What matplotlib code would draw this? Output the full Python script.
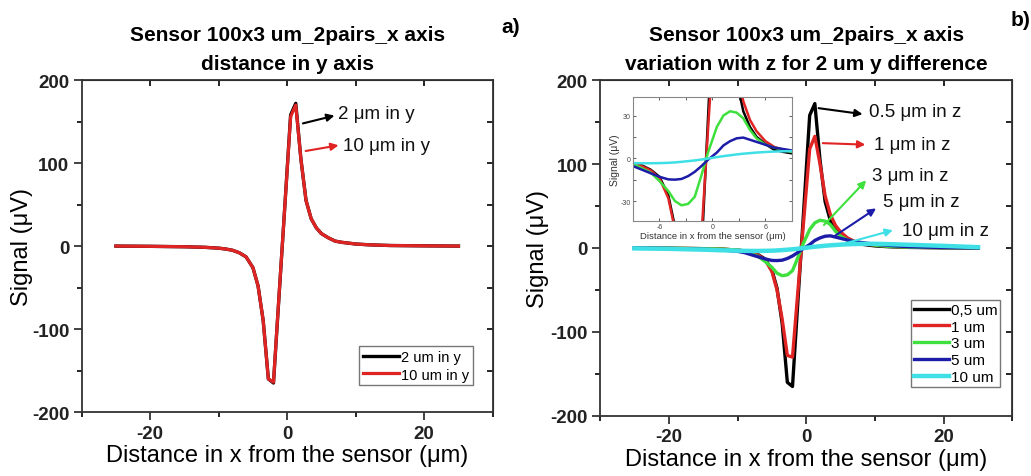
import numpy as np
import matplotlib.pyplot as plt

plt.rcParams['font.family'] = ['Liberation Sans', 'DejaVu Sans']
plt.rcParams['axes.unicode_minus'] = False

# distance in x from the sensor (um)
x_um = [-25, -20, -15, -12, -10, -9, -8, -7, -6, -5, -4.25, -3.5, -2.75, -2, -1.25,
        -0.5, 0.5, 1.25, 2, 2.75, 3.5, 4.25, 5, 6, 7, 8, 9, 10, 12, 15, 20, 25]

# panel a) - distance in y
sig_y2 = [0, -0.3, -0.8, -1.5, -2.5, -3.5, -5, -8, -13, -26, -48, -90, -160, -165, -68,
          28, 158, 172, 105, 55, 33, 22, 15, 10, 6, 4.5, 3.5, 2.5, 1.5, 0.7, 0.3, 0]
sig_y10 = [0, -0.3, -0.8, -1.5, -2.5, -3.5, -5, -8, -13, -26, -48, -90, -160, -164, -67,
           28, 156, 170, 105, 55, 33, 22, 15, 10, 6, 4.5, 3.5, 2.5, 1.5, 0.7, 0.3, 0]

# panel b) - variation with z
sig_z05 = sig_y2
sig_z1 = [0, -0.3, -0.8, -1.5, -2.5, -3.5, -5.5, -8.5, -14, -28, -50, -85, -128, -130, -55,
          20, 118, 133, 100, 62, 40, 27, 19, 12, 8, 6, 4.5, 3.5, 2, 0.9, 0.3, 0]
sig_z3 = [0, -0.3, -0.8, -1.5, -2.5, -4, -7, -10, -16, -23, -30, -33, -32, -27, -12,
          4, 22, 30, 33, 32, 28, 20, 14, 9.5, 7.5, 6, 4.5, 3.5, 2, 1, 0.3, 0]
sig_z5 = [0, -0.5, -1.5, -2.5, -4, -5.5, -8, -10.5, -13, -14.8, -15, -14.5, -12.5, -9.5, -5.5,
          -1, 4, 9, 12, 14, 14.5, 13, 11.5, 9.5, 7.5, 6.5, 5.5, 4.5, 3, 1.5, 0.5, 0]
sig_z10 = [-0.5, -1, -2, -2.8, -3.2, -3.4, -3.5, -3.5, -3.4, -3.2, -2.9, -2.5, -2, -1.5, -0.9,
           -0.2, 0.8, 1.5, 2.1, 2.7, 3.2, 3.6, 4, 4.4, 4.7, 4.9, 5, 5, 4.6, 3.8, 2.5, 1.0]

z_series = [sig_z05, sig_z1, sig_z3, sig_z5, sig_z10]
z_labels = ['0,5 um', '1 um', '3 um', '5 um', '10 um']
z_colors = ['#000000', '#e02424', '#3ee03e', '#1c1ca8', '#3ee0e6']
z_widths = [2.4, 2.4, 2.4, 2.4, 3.2]

title1 = "Sensor 100x3 um_2pairs_x axis\ndistance in y axis"
title2 = "Sensor 100x3 um_2pairs_x axis\nvariation with z for 2 um y difference"
xlab = "Distance in x from the sensor (\u03bcm)"
ylab = "Signal (\u03bcV)"

fig = plt.figure(figsize=(10.31, 4.77), dpi=100)
ax1 = fig.add_axes([0.0792, 0.134, 0.3987, 0.696])
ax2 = fig.add_axes([0.582, 0.126, 0.400, 0.704])


def style_axes(ax, title, ypad):
    ax.set_xlim(-30, 30)
    ax.set_ylim(-200, 200)
    ax.set_xticks([-20, 0, 20])
    ax.set_xticks([-30, -10, 10, 30], minor=True)
    ax.set_yticks([-200, -100, 0, 100, 200])
    ax.set_yticks([-150, -50, 50, 150], minor=True)
    ax.tick_params(which='major', direction='out', length=6, width=1.2, pad=3,
                   labelsize=13.5, colors='#222222')
    ax.tick_params(which='minor', direction='out', length=3.5, width=1.2)
    for lab in ax.get_xticklabels() + ax.get_yticklabels():
        lab.set_fontweight('bold')
    for s in ax.spines.values():
        s.set_linewidth(1.3)
        s.set_color('#333333')
    top = ax.secondary_xaxis('top')
    top.set_xticks([-20, 0, 20])
    top.set_xticks([-10, 10], minor=True)
    top.tick_params(which='both', direction='in', labeltop=False, length=4, width=1.2)
    right = ax.secondary_yaxis('right')
    right.set_yticks([-100, 0, 100])
    right.set_yticks([-150, -50, 50, 150], minor=True)
    right.tick_params(which='both', direction='in', labelright=False, length=4, width=1.2)
    ax.set_xlabel(xlab, fontsize=17, labelpad=2)
    ax.set_ylabel(ylab, fontsize=17, labelpad=ypad)
    ax.set_title(title, fontsize=15, fontweight='bold', linespacing=1.65, pad=8)


# panel a
ax1.plot(x_um, sig_y2, color='black', lw=2.4, label='2 um in y')
ax1.plot(x_um, sig_y10, color='#e02424', lw=2.3, label='10 um in y')
style_axes(ax1, title1, -1)
ax1.legend(loc='lower right', bbox_to_anchor=(0.951, 0.081), borderaxespad=0,
           fontsize=10.5, handlelength=2.5, handletextpad=0.1, labelspacing=0.25,
           borderpad=0.25, fancybox=False, framealpha=1, edgecolor='#777777')
arr = dict(arrowstyle='-|>', lw=1.5, mutation_scale=11)
ax1.text(7.4, 160, '2 \u03bcm in y', fontsize=13.5, va='center', ha='left', color='#111111')
ax1.annotate('', xy=(7.3, 158), xytext=(1.9, 147), arrowprops=dict(arr, color='black'))
ax1.text(8.1, 121, '10 \u03bcm in y', fontsize=13.5, va='center', ha='left', color='#111111')
ax1.annotate('', xy=(7.9, 122), xytext=(2.3, 114), arrowprops=dict(arr, color='#e02424'))

# panel b
for ys, lab, c, w in zip(z_series, z_labels, z_colors, z_widths):
    ax2.plot(x_um, ys, color=c, lw=w, label=lab)
style_axes(ax2, title2, 1)
ax2.legend(loc='lower right', bbox_to_anchor=(0.971, 0.086), borderaxespad=0,
           fontsize=11, handlelength=2.3, handletextpad=0.1, labelspacing=0.18,
           borderpad=0.2, fancybox=False, framealpha=1, edgecolor='#777777')

z_notes = ['0.5 \u03bcm in z', '1 \u03bcm in z', '3 \u03bcm in z', '5 \u03bcm in z', '10 \u03bcm in z']
tails = [(1.4, 167), (2.0, 125), (2.3, 25), (3.9, 13), (5.4, 5)]
heads = [(8.6, 159), (9.0, 123), (9.0, 83), (10.5, 49), (13.0, 22)]
text_pos = [(9.2, 162), (9.8, 123), (9.6, 86), (11.2, 55), (14.0, 21)]
for note, t, h, p, c in zip(z_notes, tails, heads, text_pos, z_colors):
    ax2.annotate('', xy=h, xytext=t, arrowprops=dict(arr, color=c))
    ax2.text(p[0], p[1], note, fontsize=13.5, va='center', ha='left', color='#111111')

# inset in panel b
axin = fig.add_axes([0.614, 0.5346, 0.154, 0.26])
for ys, c in zip(z_series, z_colors):
    axin.plot(x_um, ys, color=c, lw=1.8)
axin.set_xlim(-8.9, 8.8)
axin.set_ylim(-44, 43)
axin.set_xticks([-6, 0, 6])
axin.set_xticks([-9, -3, 3, 9], minor=True)
axin.set_yticks([-30, 0, 30])
axin.set_yticks([-15, 15], minor=True)
axin.tick_params(which='both', direction='in', top=True, right=True, labelsize=5,
                 length=2, width=0.6, pad=1.5, colors='#444444')
for s in axin.spines.values():
    s.set_linewidth(0.8)
    s.set_color('#888888')
axin.set_xlabel(xlab, fontsize=6.8, labelpad=0.5, color='#333333')
axin.set_ylabel(ylab, fontsize=7.5, labelpad=0.5, color='#333333')

fig.text(0.495, 0.943, 'a)', fontsize=15, fontweight='bold', ha='center', va='center')
fig.text(0.99, 0.957, 'b)', fontsize=15, fontweight='bold', ha='center', va='center')

fig.savefig('out.png', dpi=100)
